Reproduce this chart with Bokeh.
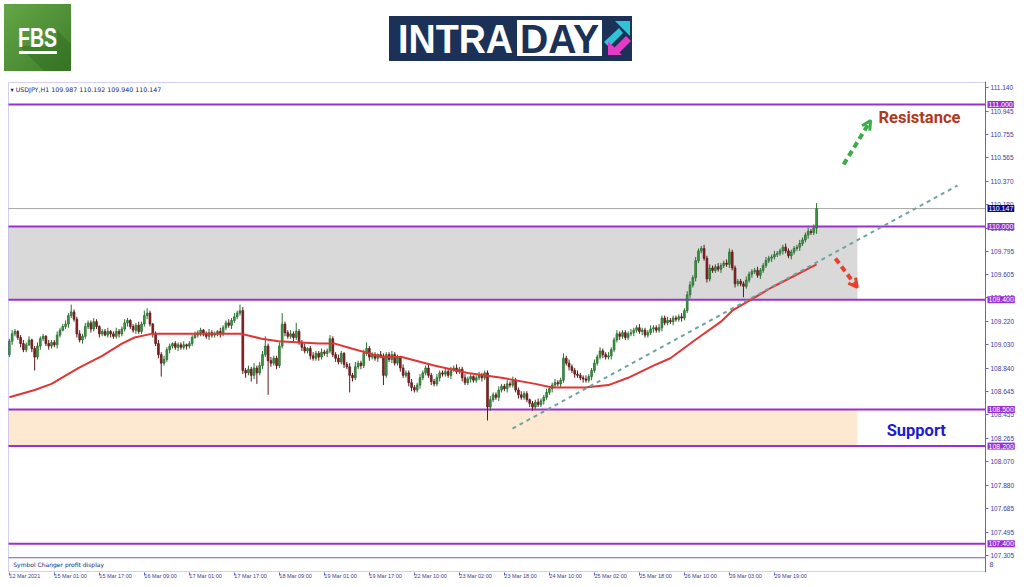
from bokeh.plotting import figure
from bokeh.models import (Range1d, FixedTicker, NumeralTickFormatter, BoxAnnotation,
                          Label, Arrow, OpenHead, Div, ColumnDataSource)
from bokeh.layouts import column
from bokeh.embed import file_html
from bokeh.resources import INLINE

# ---------------- data (USDJPY H1) ----------------
first_open = 108.95
closes = [
    109.06, 109.12, 109.14, 109.09, 109.04, 108.99, 109.03, 109.07, 109.00, 108.93,
    109.02, 109.08, 109.10, 109.04, 109.02, 109.05, 109.03, 109.11, 109.15, 109.18,
    109.20, 109.27, 109.30, 109.24, 109.12, 109.07, 109.10, 109.18, 109.21, 109.16,
    109.22, 109.18, 109.12, 109.14, 109.11, 109.14, 109.12, 109.10, 109.14, 109.12,
    109.16, 109.21, 109.23, 109.18, 109.15, 109.19, 109.14, 109.20, 109.27, 109.29,
    109.20, 109.12, 109.04, 108.95, 108.88, 108.91, 108.99, 109.02, 109.04, 109.01,
    109.03, 109.01, 109.03, 109.02, 109.04, 109.09, 109.11, 109.13, 109.15, 109.12,
    109.10, 109.13, 109.11, 109.12, 109.14, 109.12, 109.17, 109.21, 109.19, 109.23,
    109.26, 109.29, 109.31, 108.82, 108.80, 108.83, 108.78, 108.84, 108.80, 108.86,
    108.95, 109.02, 108.90, 108.88, 108.92, 108.86, 109.02, 109.20, 109.13, 109.10,
    109.12, 109.09, 109.14, 109.05, 109.01, 108.98, 109.00, 108.94, 108.92, 108.96,
    108.93, 108.97, 108.96, 108.98, 109.08, 108.95, 108.92, 108.89, 108.96, 108.87,
    108.85, 108.78, 108.76, 108.85, 108.88, 108.86, 108.96, 109.00, 108.93, 108.95,
    108.92, 108.95, 108.94, 108.78, 108.95, 108.91, 108.95, 108.88, 108.93, 108.84,
    108.78, 108.80, 108.72, 108.68, 108.66, 108.70, 108.76, 108.80, 108.84, 108.78,
    108.73, 108.71, 108.76, 108.80, 108.79, 108.81, 108.78, 108.83, 108.84, 108.81,
    108.83, 108.76, 108.72, 108.75, 108.77, 108.74, 108.76, 108.78, 108.76, 108.80,
    108.52, 108.58, 108.62, 108.60, 108.66, 108.69, 108.67, 108.71, 108.70, 108.74,
    108.66, 108.62, 108.60, 108.63, 108.58, 108.55, 108.52, 108.56, 108.54, 108.57,
    108.60, 108.64, 108.67, 108.70, 108.72, 108.71, 108.74, 108.92, 108.88, 108.85,
    108.82, 108.79, 108.78, 108.76, 108.75, 108.74, 108.77, 108.82, 108.88, 108.93,
    108.98, 108.95, 108.93, 108.94, 108.99, 109.07, 109.12, 109.10, 109.13, 109.09,
    109.12, 109.13, 109.15, 109.17, 109.14, 109.15, 109.11, 109.13, 109.16, 109.17,
    109.15, 109.17, 109.25, 109.21, 109.23, 109.22, 109.25, 109.24, 109.26, 109.25,
    109.31, 109.44, 109.52, 109.58, 109.72, 109.80, 109.82, 109.74, 109.57, 109.66,
    109.64, 109.67, 109.65, 109.68, 109.70, 109.69, 109.79, 109.66, 109.53, 109.55,
    109.53, 109.51, 109.56, 109.61, 109.63, 109.64, 109.60, 109.64, 109.68, 109.72,
    109.74, 109.75, 109.77, 109.78, 109.80, 109.83, 109.80, 109.76, 109.79, 109.82,
    109.83, 109.86, 109.89, 109.93, 109.96, 109.95, 109.987, 110.147]

# upper / lower wick lengths in pips (0.01)
up_pips = [
    2, 3, 2, 1, 2, 3, 2, 3, 1, 2,
    3, 2, 2, 1, 3, 2, 2, 3, 2, 2,
    3, 2, 6, 2, 2, 3, 2, 3, 2, 2,
    3, 2, 1, 2, 2, 3, 1, 2, 3, 2,
    2, 3, 2, 1, 2, 2, 3, 2, 4, 4,
    2, 1, 2, 3, 2, 3, 2, 2, 1, 2,
    2, 2, 3, 1, 2, 2, 3, 2, 2, 1,
    2, 3, 2, 2, 1, 3, 2, 2, 3, 2,
    3, 2, 5, 3, 2, 3, 2, 4, 2, 3,
    3, 8, 2, 3, 2, 2, 3, 9, 2, 2,
    3, 2, 7, 2, 2, 3, 1, 2, 3, 2,
    2, 3, 2, 2, 3, 2, 2, 3, 2, 1,
    2, 3, 2, 4, 2, 2, 3, 5, 2, 2,
    2, 1, 3, 2, 2, 2, 3, 2, 2, 1,
    3, 2, 2, 3, 2, 2, 3, 2, 2, 3,
    2, 2, 3, 2, 2, 3, 2, 2, 2, 3,
    2, 2, 3, 2, 2, 1, 2, 3, 2, 2,
    2, 3, 2, 2, 3, 2, 2, 3, 2, 3,
    2, 2, 3, 2, 2, 1, 2, 2, 3, 2,
    2, 3, 2, 2, 3, 2, 2, 4, 2, 3,
    2, 2, 3, 2, 2, 3, 2, 2, 3, 2,
    3, 2, 2, 3, 2, 2, 3, 2, 2, 2,
    2, 3, 2, 2, 3, 2, 2, 2, 3, 2,
    2, 3, 2, 2, 3, 2, 2, 2, 2, 3,
    2, 3, 3, 2, 3, 2, 2, 3, 2, 3,
    2, 2, 3, 2, 2, 3, 3, 2, 2, 2,
    2, 2, 3, 2, 2, 2, 3, 2, 2, 3,
    2, 2, 3, 2, 2, 2, 3, 2, 2, 2,
    2, 3, 2, 2, 3, 2, 3, 4.5]
dn_pips = [
    2, 3, 2, 2, 3, 2, 2, 1, 3, 11,
    2, 3, 2, 2, 3, 2, 2, 3, 2, 1,
    2, 3, 2, 2, 3, 2, 3, 2, 2, 3,
    2, 2, 3, 2, 1, 2, 3, 2, 2, 3,
    2, 2, 3, 2, 2, 3, 2, 2, 2, 3,
    2, 3, 2, 3, 11, 2, 2, 3, 2, 2,
    3, 2, 2, 3, 2, 2, 1, 2, 3, 2,
    2, 3, 2, 2, 2, 3, 2, 2, 2, 3,
    2, 2, 2, 3, 4, 2, 5, 3, 9, 2,
    3, 2, 28, 3, 2, 3, 2, 2, 3, 2,
    2, 3, 2, 2, 3, 2, 2, 3, 2, 2,
    3, 2, 2, 3, 2, 2, 3, 2, 2, 3,
    2, 14, 3, 2, 2, 3, 2, 2, 3, 2,
    2, 3, 2, 8, 2, 2, 3, 2, 2, 3,
    2, 2, 3, 3, 2, 2, 3, 2, 2, 2,
    3, 2, 2, 3, 2, 2, 2, 3, 2, 2,
    2, 3, 2, 2, 3, 2, 2, 2, 3, 2,
    11, 3, 2, 2, 3, 2, 2, 3, 2, 2,
    2, 3, 2, 2, 2, 3, 3, 2, 2, 2,
    3, 2, 2, 3, 2, 2, 3, 2, 2, 3,
    2, 3, 2, 2, 3, 2, 2, 3, 2, 2,
    2, 3, 2, 2, 3, 2, 2, 3, 2, 2,
    2, 2, 3, 2, 2, 3, 2, 2, 2, 3,
    2, 2, 3, 2, 2, 2, 3, 2, 2, 3,
    2, 2, 3, 2, 3, 2, 2, 2, 3, 2,
    2, 2, 2, 3, 2, 2, 3, 2, 3, 2,
    2, 9, 2, 2, 3, 2, 2, 3, 2, 2,
    2, 3, 2, 2, 2, 3, 2, 2, 3, 2,
    2, 3, 2, 2, 3, 2, 2, 4.7]

# moving average
ma_bar = [0, 9, 15, 24.5, 33, 40, 44.5, 50.5, 82.5, 89.7, 95.7, 110, 115.7, 121.7, 127.8,
          132.4, 139.5, 151, 163, 175, 187, 193, 204.6, 213, 220, 229, 235, 243.8, 253,
          257, 271, 287]
ma_val = [108.60, 108.66, 108.71, 108.84, 108.94, 109.04, 109.09, 109.12, 109.12, 109.08,
          109.06, 109.04, 109.04, 109.00, 108.96, 108.93, 108.93, 108.86, 108.80, 108.76,
          108.71, 108.68, 108.68, 108.70, 108.76, 108.86, 108.92, 109.07, 109.22,
          109.31, 109.50, 109.69]

# dashed trend line
trend_bar = [178.9, 337.1]
trend_val = [108.344, 110.336]

levels = [111.000, 110.000, 109.400, 108.500, 108.200, 107.400]
current_price = 110.147
zone_resistance = (109.400, 110.000)
zone_support = (108.200, 108.500)
zone_end_bar = 301.5

y_ticks = [111.140, 110.945, 110.755, 110.565, 110.370, 110.180, 109.985, 109.795, 109.605,
           109.415, 109.220, 109.030, 108.840, 108.645, 108.455, 108.265, 108.070, 107.880,
           107.685, 107.495, 107.305]
x_tick_labels = ["12 Mar 2021", "15 Mar 01:00", "15 Mar 17:00", "16 Mar 09:00", "17 Mar 01:00",
                 "17 Mar 17:00", "18 Mar 09:00", "19 Mar 01:00", "19 Mar 17:00", "22 Mar 10:00",
                 "23 Mar 02:00", "23 Mar 18:00", "24 Mar 10:00", "25 Mar 02:00", "25 Mar 18:00",
                 "26 Mar 10:00", "29 Mar 03:00", "29 Mar 19:00"]
bars_per_label = 16

# ---------------- styles ----------------
FRAME = "#6a5fd0"
AXIS_TXT = "#3b3b96"
LVL = "#9b30d0"
BULL, BULL_LINE = "#3f9a46", "#2a6e30"
BEAR, BEAR_LINE = "#8a2424", "#5e1a1a"

n = min(len(closes), len(up_pips), len(dn_pips))
closes, up_pips, dn_pips = closes[:n], up_pips[:n], dn_pips[:n]
opens = [first_open] + closes[:-1]
highs = [max(o, c) + u / 100 for o, c, u in zip(opens, closes, up_pips)]
lows = [min(o, c) - d / 100 for o, c, d in zip(opens, closes, dn_pips)]
bull = [c >= o for o, c in zip(opens, closes)]
src = ColumnDataSource(dict(
    x=list(range(n)), h=highs, l=lows,
    top=[max(o, c) for o, c in zip(opens, closes)],
    bot=[min(o, c) for o, c in zip(opens, closes)],
    fill=[BULL if b else BEAR for b in bull],
    edge=[BULL_LINE if b else BEAR_LINE for b in bull],
))

# window geometry (data units)
X0, X1 = -0.656, 358.07        # plotted x range
X_LEFT = -0.3                  # left border of the price window
AXIS_X = 347.05                # price scale position
Y0, Y1 = 107.164, 111.1885
WIN_BOT, WIN_TOP = 107.172, 111.180
SUB_SEP = 107.285

p = figure(frame_width=1009, frame_height=491,
           x_range=Range1d(X0, X1), y_range=Range1d(Y0, Y1),
           output_backend="svg", toolbar_location=None,
           y_axis_location="right",
           min_border_left=7, min_border_top=0, min_border_right=0, min_border_bottom=0,
           background_fill_color="white", border_fill_color="white",
           outline_line_color=None)
p.grid.visible = False

# axes
ya = p.yaxis[0]
ya.fixed_location = AXIS_X
ya.ticker = FixedTicker(ticks=y_ticks)
ya.formatter = NumeralTickFormatter(format="0.000")
ya.axis_line_color = FRAME
ya.major_tick_line_color = FRAME
ya.major_tick_out = 3
ya.major_tick_in = 0
ya.minor_tick_line_color = None
ya.major_label_text_font = "Liberation Sans"
ya.major_label_text_font_size = "6.5px"
ya.major_label_text_color = AXIS_TXT
ya.major_label_standoff = 2

xa = p.xaxis[0]
x_ticks = [i * bars_per_label for i in range(len(x_tick_labels))]
xa.ticker = FixedTicker(ticks=x_ticks)
xa.major_label_overrides = {t: lab for t, lab in zip(x_ticks, x_tick_labels)}
xa.axis_line_color = None
xa.major_tick_line_color = FRAME
xa.major_tick_out = 3
xa.major_tick_in = 0
xa.minor_tick_line_color = None
xa.major_label_text_font = "Liberation Sans"
xa.major_label_text_font_size = "5.5px"
xa.major_label_text_color = AXIS_TXT
xa.major_label_orientation = -0.0001   # keeps labels horizontal but left-aligned on the tick
xa.major_label_standoff = 0

# zones
p.add_layout(BoxAnnotation(left=X_LEFT, right=zone_end_bar, bottom=zone_resistance[0],
                           top=zone_resistance[1], fill_color="#d9d9d9", fill_alpha=1,
                           line_color=None, level="underlay"))
p.add_layout(BoxAnnotation(left=X_LEFT, right=zone_end_bar, bottom=zone_support[0],
                           top=zone_support[1], fill_color="#fde9d1", fill_alpha=1,
                           line_color=None, level="underlay"))

# horizontal level lines up to the price scale
p.segment(x0=[X_LEFT], y0=[current_price], x1=[AXIS_X], y1=[current_price],
          line_color="#a8a8a8", line_width=1)
p.segment(x0=[X_LEFT] * len(levels), y0=levels, x1=[AXIS_X] * len(levels), y1=levels,
          line_color=LVL, line_width=2)

# candles
p.segment(x0="x", y0="l", x1="x", y1="h", source=src, line_color="edge", line_width=1)
p.vbar(x="x", top="top", bottom="bot", width=0.62, source=src,
       fill_color="fill", line_color="edge", line_width=0.8)

# moving average and trend line
p.line(ma_bar, ma_val, line_color="#e03535", line_width=2)
p.line(trend_bar, trend_val, line_color="#6fa3a3", line_width=2, line_dash="4 4")

# window frame and indicator sub-window separator
p.add_layout(BoxAnnotation(left=X_LEFT, right=AXIS_X, bottom=WIN_BOT, top=WIN_TOP,
                           fill_alpha=0, line_color=FRAME, line_width=1))
p.segment(x0=[X_LEFT], y0=[SUB_SEP], x1=[AXIS_X], y1=[SUB_SEP], line_color=FRAME, line_width=1)

# arrows
p.add_layout(Arrow(end=OpenHead(size=9, line_color="#3aad48", line_width=3),
                   x_start=296.6, y_start=110.508, x_end=306.2, y_end=110.869,
                   line_color="#3aad48", line_width=4, line_dash="6 4"))
p.add_layout(Arrow(end=OpenHead(size=9, line_color="#e8402c", line_width=3),
                   x_start=293.7, y_start=109.738, x_end=301.5, y_end=109.500,
                   line_color="#e8402c", line_width=4, line_dash="6 4"))

# texts
p.add_layout(Label(x=309.0, y=110.893, text="Resistance", text_font="Roboto",
                   text_font_style="bold", text_font_size="16.5px", text_color="#b0381c",
                   text_baseline="middle", text_align="left"))
p.add_layout(Label(x=311.9, y=108.328, text="Support", text_font="Roboto",
                   text_font_style="bold", text_font_size="16.5px", text_color="#1c1ccc",
                   text_baseline="middle", text_align="left"))
p.add_layout(Label(x=0.4, y=111.123, text="\u25be USDJPY,H1  109.987 110.192 109.940 110.147",
                   text_font="DejaVu Sans", text_font_size="6.3px", text_color="#1c1c70",
                   text_baseline="middle", text_align="left"))
p.add_layout(Label(x=1.4, y=107.230, text="Symbol Changer profit display",
                   text_font="DejaVu Sans", text_font_size="6px", text_color="#1c1c70",
                   text_baseline="middle", text_align="left"))
p.add_layout(Label(x=AXIS_X, y=107.230, x_offset=4, text="8", text_font="Liberation Sans",
                   text_font_size="7px", text_color=AXIS_TXT, text_baseline="middle"))

# price boxes on the right scale
for lv in levels:
    p.add_layout(Label(x=AXIS_X, y=lv, x_offset=2, text=f"{lv:.3f}", text_font="Liberation Sans",
                       text_font_size="7px", text_color="white", background_fill_color=LVL,
                       text_baseline="middle", text_align="left", padding=1))
p.add_layout(Label(x=AXIS_X, y=current_price, x_offset=2, text=f"{current_price:.3f}",
                   text_font="Liberation Sans", text_font_size="7px", text_color="white",
                   background_fill_color="#0a0a8c", text_baseline="middle", text_align="left",
                   padding=1))

# ---------------- header with logos ----------------
header_svg = """
<svg width="1016" height="81" xmlns="http://www.w3.org/2000/svg" style="display:block">
 <defs>
  <linearGradient id="fbsg" x1="0" y1="0" x2="1" y2="1">
   <stop offset="0" stop-color="#64a646"/><stop offset="1" stop-color="#3e7d2b"/>
  </linearGradient>
 </defs>
 <rect x="4" y="4" width="67" height="67" fill="url(#fbsg)"/>
 <polygon points="57,30 71,44 71,71 44,71 19,46 57,46" fill="#2f6a22" opacity="0.45"/>
 <text x="18" y="47" font-family="Roboto, sans-serif" font-weight="bold" font-size="28"
       fill="white" textLength="39" lengthAdjust="spacingAndGlyphs">FBS</text>
 <rect x="19" y="51" width="38" height="3" fill="white"/>
 <rect x="389" y="16" width="243" height="45" fill="#1b3158"/>
 <text x="398" y="53" font-family="Roboto, sans-serif" font-weight="bold" font-size="41"
       fill="white" textLength="115" lengthAdjust="spacingAndGlyphs">INTRA</text>
 <rect x="517" y="20" width="85" height="36" fill="white"/>
 <text x="520" y="53" font-family="Roboto, sans-serif" font-weight="bold" font-size="41"
       fill="#1b3158" textLength="79" lengthAdjust="spacingAndGlyphs">DAY</text>
 <polygon points="604,42 609,47 623,33 619,28" fill="#2ec3d6"/>
 <polygon points="615,21 630,21 630,36" fill="#2ec3d6"/>
 <polygon points="614,48 619,53 631,41 626,36" fill="#e23cc6"/>
 <polygon points="608,55 608,41 622,55" fill="#e23cc6"/>
</svg>
"""
header = Div(text=header_svg, width=1016, height=81, margin=0)

layout = column(header, p, spacing=0)
open("out.html", "w").write(file_html(layout, INLINE))
